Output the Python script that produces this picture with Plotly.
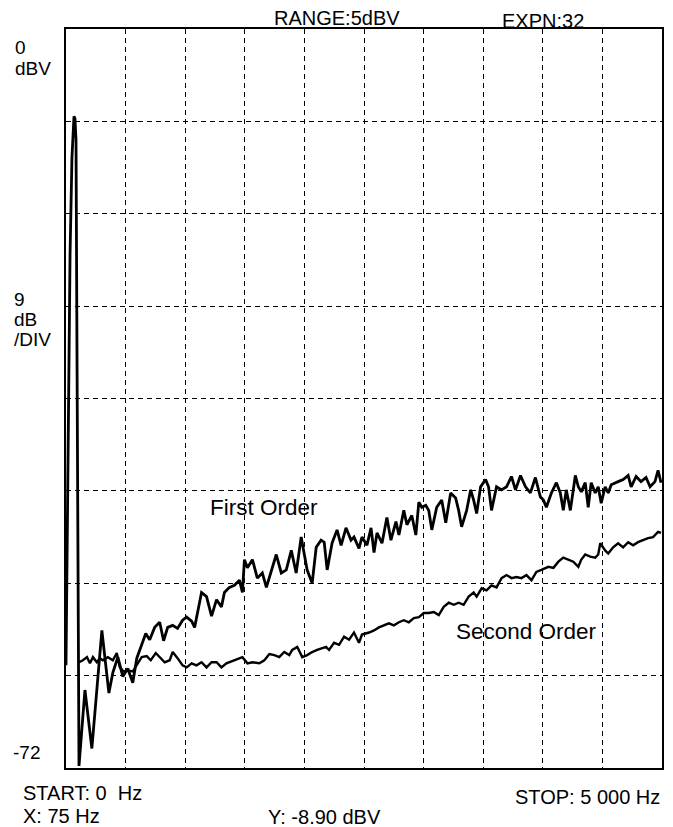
import plotly.graph_objects as go

# ---- data ----
first_order_hz = [0, 17, 34, 50, 59, 67, 75, 84, 92, 100, 109,
                  159, 217, 268, 301, 326, 360, 393, 435, 477, 518,
                  560, 594, 635, 669, 702, 744, 786, 819, 853, 895,
                  936, 978, 1012, 1054, 1079, 1137, 1179, 1221, 1263, 1304,
                  1329, 1371, 1413, 1455, 1480, 1497, 1522, 1564, 1605, 1647,
                  1681, 1722, 1764, 1806, 1848, 1890, 1931, 1973, 1998, 2023,
                  2065, 2099, 2140, 2166, 2191, 2232, 2274, 2308, 2349, 2391,
                  2416, 2458, 2483, 2525, 2559, 2584, 2609, 2651, 2692, 2726,
                  2768, 2793, 2834, 2860, 2901, 2935, 2960, 2985, 3018, 3043,
                  3069, 3110, 3152, 3186, 3227, 3269, 3294, 3319, 3361, 3395,
                  3420, 3445, 3478, 3520, 3545, 3570, 3612, 3654, 3696, 3737,
                  3771, 3813, 3855, 3896, 3938, 3980, 4005, 4030, 4072, 4114,
                  4147, 4172, 4197, 4231, 4273, 4298, 4323, 4356, 4381, 4406,
                  4440, 4465, 4490, 4523, 4549, 4574, 4632, 4674, 4716, 4741,
                  4783, 4824, 4866, 4900, 4941, 4967, 4992]
first_order_dbv = [-62.0, -40.0, -22.0, -12.5, -9.4, -8.5, -8.7, -10.8, -31.2, -55.6, -71.8,
                   -64.4, -70.1, -63.1, -58.6, -61.2, -64.7, -62.7, -61.2, -63.1, -62.3,
                   -63.7, -61.3, -60.0, -58.9, -59.5, -58.3, -57.8, -59.6, -58.3, -58.1,
                   -58.4, -57.6, -57.3, -57.7, -58.3, -54.9, -55.3, -57.2, -55.6, -56.3,
                   -54.9, -54.4, -54.2, -53.7, -54.9, -51.7, -52.5, -51.7, -53.5, -53.0,
                   -54.4, -52.9, -51.2, -53.0, -52.7, -50.8, -53.0, -49.5, -51.1, -52.7,
                   -54.0, -50.5, -49.8, -50.0, -52.7, -50.1, -48.8, -50.3, -48.6, -49.8,
                   -49.5, -50.6, -49.5, -50.3, -48.6, -51.0, -49.1, -50.1, -47.6, -49.8,
                   -48.0, -49.3, -46.9, -48.3, -47.4, -49.3, -46.1, -46.6, -46.4, -46.9,
                   -48.8, -46.6, -45.9, -48.1, -45.2, -45.7, -46.9, -48.5, -46.9, -44.9,
                   -45.9, -47.2, -44.6, -43.9, -44.6, -46.9, -44.6, -44.9, -44.6, -43.6,
                   -44.9, -43.5, -44.6, -45.2, -43.7, -45.6, -45.9, -46.6, -45.2, -44.2,
                   -45.2, -46.9, -44.9, -46.9, -43.5, -44.6, -45.1, -44.2, -46.6, -44.2,
                   -45.2, -44.6, -46.2, -44.6, -45.2, -44.4, -44.1, -43.9, -43.5, -44.6,
                   -43.6, -44.1, -43.7, -44.6, -44.1, -43.0, -44.2]

second_order_hz = [109, 142, 176, 201, 226, 259, 284, 309, 351, 393,
                   426, 452, 485, 518, 560, 602, 635, 677, 711, 753,
                   786, 828, 870, 895, 936, 978, 1012, 1054, 1095, 1137,
                   1179, 1221, 1263, 1304, 1346, 1388, 1430, 1480, 1522, 1564,
                   1622, 1664, 1706, 1748, 1789, 1831, 1873, 1898, 1940, 1982,
                   2023, 2065, 2107, 2149, 2182, 2207, 2249, 2291, 2333, 2375,
                   2416, 2458, 2483, 2542, 2584, 2625, 2667, 2709, 2751, 2793,
                   2834, 2876, 2918, 2960, 3002, 3043, 3085, 3127, 3169, 3211,
                   3253, 3294, 3336, 3378, 3420, 3445, 3487, 3528, 3570, 3612,
                   3654, 3696, 3737, 3779, 3821, 3863, 3905, 3946, 3988, 4030,
                   4047, 4089, 4131, 4172, 4214, 4256, 4298, 4323, 4356, 4398,
                   4440, 4465, 4482, 4523, 4549, 4590, 4632, 4674, 4716, 4758,
                   4799, 4841, 4883, 4925, 4967, 4992]
second_order_dbv = [-61.7, -61.5, -61.2, -61.8, -61.2, -61.7, -61.3, -61.5, -61.2, -61.5,
                    -60.8, -62.2, -62.6, -62.5, -62.6, -61.8, -61.2, -61.1, -61.5, -60.8,
                    -61.2, -61.7, -61.5, -60.7, -61.3, -62.0, -62.2, -61.8, -62.0, -61.7,
                    -62.2, -61.7, -61.7, -62.2, -61.8, -61.6, -61.4, -61.2, -61.8, -61.7,
                    -61.8, -61.5, -60.9, -61.0, -61.2, -60.7, -61.0, -60.5, -60.2, -61.2,
                    -61.0, -60.7, -60.5, -60.3, -60.2, -60.5, -59.8, -60.0, -59.2, -59.5,
                    -58.8, -59.8, -59.0, -58.8, -58.6, -58.3, -58.1, -57.9, -58.1, -57.8,
                    -57.6, -57.8, -57.4, -57.3, -56.9, -56.9, -56.8, -57.1, -56.3, -55.9,
                    -56.1, -55.9, -56.1, -55.3, -54.9, -55.3, -54.5, -54.7, -54.2, -54.4,
                    -53.5, -53.2, -53.5, -53.4, -53.5, -53.2, -53.7, -52.9, -52.7, -52.5,
                    -52.4, -52.5, -51.9, -51.5, -51.7, -51.9, -52.4, -51.7, -51.2, -51.4,
                    -51.5, -51.2, -50.1, -50.8, -51.1, -50.5, -50.1, -50.5, -50.0, -50.3,
                    -50.0, -49.8, -49.6, -49.5, -49.0, -49.1]

x_start_hz, x_stop_hz = 0, 5000
y_top_dbv, y_bottom_dbv = 0, -72
db_per_div = 9
hz_per_div = 500

header_texts = ["RANGE:5dBV", "EXPN:32"]
footer_texts = ["START: 0  Hz", "X: 75 Hz", "Y: -8.90 dBV", "STOP: 5 000 Hz"]
left_texts = ["0", "dBV", "9", "dB", "/DIV", "-72"]
curve_labels = ["First Order", "Second Order"]

# ---- layout geometry (pixels) ----
W, H = 673, 827
L, R, T, B = 66, 9, 29, 59
PW, PH = W - L - R, H - T - B
FONT = "Liberation Sans, Arial, Helvetica, sans-serif"


def px(x):
    return (x - L) / PW


def py(y):
    return (H - B - y) / PH


fig = go.Figure()
fig.add_trace(go.Scatter(x=first_order_hz, y=first_order_dbv, mode="lines",
                         line=dict(color="black", width=2.8), showlegend=False))
fig.add_trace(go.Scatter(x=second_order_hz, y=second_order_dbv, mode="lines",
                         line=dict(color="black", width=2.4), showlegend=False))

grid = dict(showgrid=True, gridcolor="black", gridwidth=1, griddash="5px,4px",
            showticklabels=False, ticks="", zeroline=False,
            showline=True, linecolor="black", linewidth=2, mirror=True)
fig.update_xaxes(range=[x_start_hz, x_stop_hz], dtick=hz_per_div, tick0=0, **grid)
fig.update_yaxes(range=[y_bottom_dbv, y_top_dbv], dtick=db_per_div, tick0=0, **grid)

ann = []


def add(text, x, y, xanchor="left", size=20, align="left"):
    ann.append(dict(text=text, x=px(x), y=py(y), xref="paper", yref="paper",
                    xanchor=xanchor, yanchor="middle", showarrow=False, align=align,
                    borderpad=0, font=dict(family=FONT, size=size, color="black")))


add(header_texts[0], 274, 18)
add(header_texts[1], 502, 21)
add(left_texts[0], 14, 48, size=19)
add(left_texts[1], 14, 68, size=19)
add(left_texts[2], 13, 299, size=19)
add(left_texts[3], 13, 319, size=19)
add(left_texts[4], 13, 339, size=19)
add(left_texts[5], 12, 752, size=19)
add(footer_texts[0], 22, 793)
add(footer_texts[1], 22, 816)
add(footer_texts[2], 268, 817)
add(footer_texts[3], 663, 797, xanchor="right")
add(curve_labels[0], 209, 507, size=22.5)
add(curve_labels[1], 456, 631, size=22.5)

fig.update_layout(width=W, height=H, margin=dict(l=L, r=R, t=T, b=B),
                  paper_bgcolor="white", plot_bgcolor="white",
                  annotations=ann, showlegend=False, hovermode=False,
                  font=dict(family=FONT, color="black"))

fig.write_html("out.html", config={"displayModeBar": False, "staticPlot": True},
               post_script="document.body.style.margin='0px';document.body.style.overflow='hidden';")
